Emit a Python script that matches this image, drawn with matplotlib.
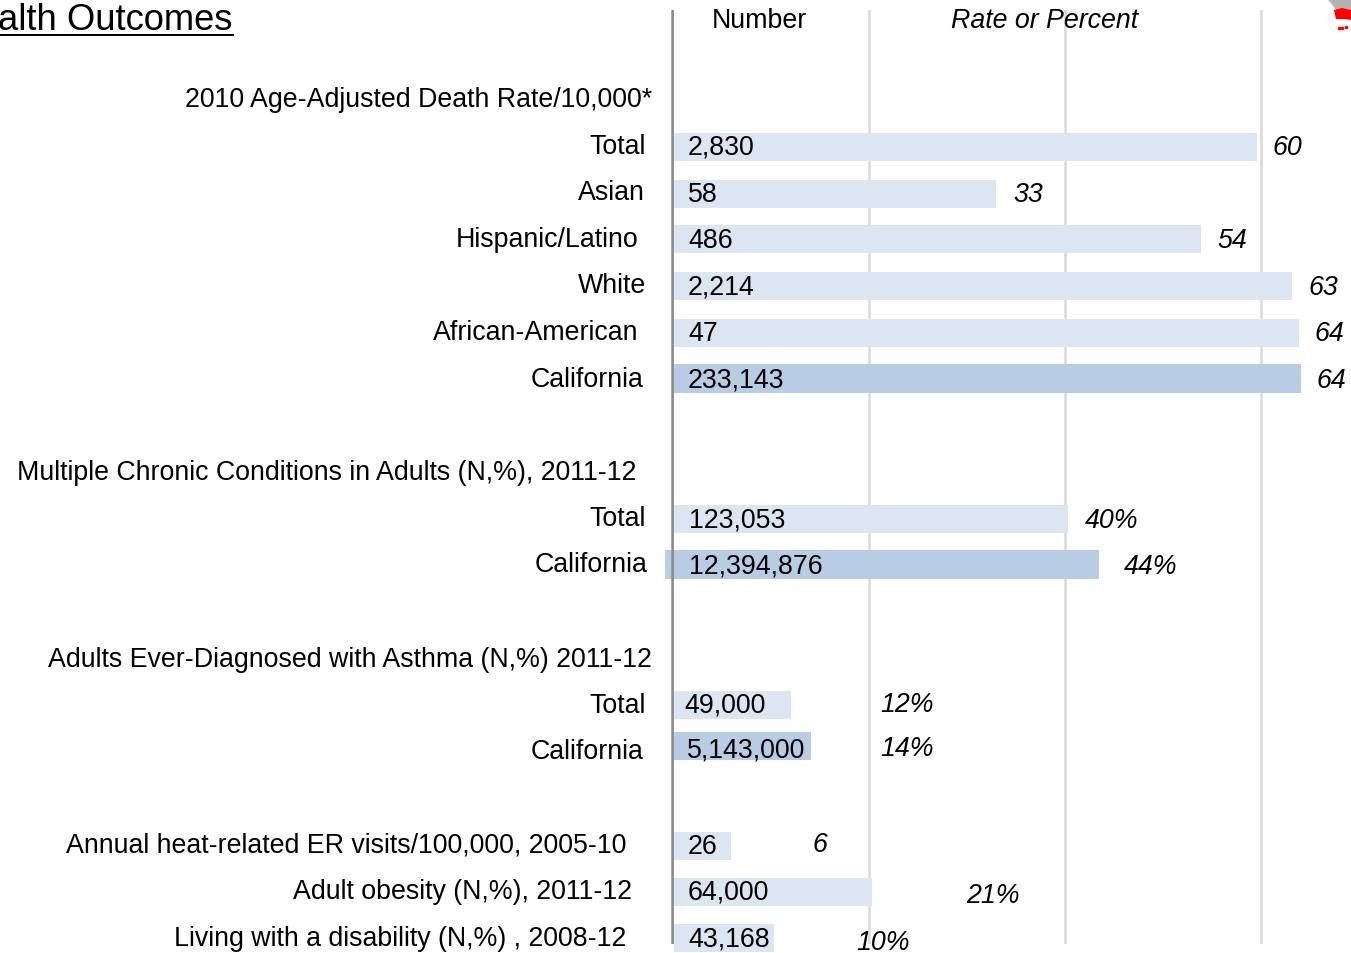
import matplotlib
matplotlib.use("Agg")
import matplotlib.pyplot as plt
import numpy as np

plt.rcParams['font.family'] = ['Liberation Sans', 'DejaVu Sans']

# data
section_titles = ["2010 Age-Adjusted Death Rate/10,000*",
                  "Multiple Chronic Conditions in Adults (N,%), 2011-12",
                  "Adults Ever-Diagnosed with Asthma (N,%) 2011-12"]
labels = ["Total", "Asian", "Hispanic/Latino", "White", "African-American", "California",
          "Total", "California",
          "Total", "California",
          "Annual heat-related ER visits/100,000, 2005-10",
          "Adult obesity (N,%), 2011-12",
          "Living with a disability (N,%) , 2008-12"]
numbers = ["2,830", "58", "486", "2,214", "47", "233,143",
           "123,053", "12,394,876",
           "49,000", "5,143,000",
           "26", "64,000", "43,168"]
values = [59.5, 32.9, 53.8, 63.1, 63.8, 64.0,
          40.3, 43.4,
          12.0, 14.0,
          5.9, 20.3, 10.3]
value_text = ["60", "33", "54", "63", "64", "64",
              "40%", "44%",
              "12%", "14%",
              "6", "21%", "10%"]
is_state = [False, False, False, False, False, True,
            False, True,
            False, True,
            False, False, False]
ticks = [20, 40, 60]

# layout, in pixels of the 1351x954 picture
W, H = 1351, 954
PX = 9.8        # pixels per unit on the rate scale
X0 = 673.5      # pixel where the bars start
AXIS_X = 672.6  # the dark line sits just left of that
DY = 2          # va=center sits a bit high for this font
FS = 19.3
bar_h = [28, 28, 28, 28, 28, 29, 28, 29, 28, 28, 28, 28, 28]
bar_y = [147.5, 194.5, 240, 287, 333.5, 379, 519.5, 565, 706, 746.5, 846.5, 892.5, 939]
bar_left = [0, 0, 0, 0, 0, 0, 0, -0.9, 0, 0, 0, 0, 0]
label_right = [646, 645, 639, 646, 638, 643, 646, 648, 646, 643, 626, 632, 626]
label_y = [145, 191, 238, 284, 331, 378, 517, 563, 704, 750, 844, 890, 937]
num_x = [688, 688, 688, 688, 688, 688, 689, 689, 684, 687, 688, 688, 688]
num_y = [146, 193, 239, 286, 332, 379, 519, 565, 704, 749, 845, 891, 938]
val_x = [1273, 1013, 1217, 1309, 1315, 1317, 1085, 1124, 880, 880, 812, 966, 856]
val_y = [146, 193, 239, 286, 332, 379, 519, 565, 703, 747, 843, 894, 941]
sec_right = [652, 636, 652]
sec_y = [98, 471, 658]


def to_x(px):
    return (np.asarray(px) - X0) / PX


fig = plt.figure(figsize=(W / 100, H / 100), dpi=100)
ax = fig.add_axes([0, 0, 1, 1])
ax.set_xlim(to_x(0), to_x(W))
ax.set_ylim(H, 0)   # y stays in pixels, rows have no scale of their own
ax.axis("off")

# grid and zero line
ax.vlines(ticks, 11, 945, color="#d9d9d9", lw=1.8, zorder=1, snap=False)
ax.vlines(to_x(AXIS_X), 11, 945, color="#8c8c8c", lw=1.9, zorder=3, snap=False)

# bars
for i in range(len(values)):
    c = "#b8cce4" if is_state[i] else "#dce6f2"
    ax.barh(bar_y[i], values[i] - bar_left[i], height=bar_h[i], left=bar_left[i],
            color=c, zorder=2)
    ax.text(to_x(label_right[i]), label_y[i] + DY, labels[i], ha="right", va="center",
            fontsize=FS, color="black", zorder=4)
    ax.text(to_x(num_x[i]), num_y[i] + DY, numbers[i], ha="left", va="center",
            fontsize=FS, color="black", zorder=4)
    ax.text(to_x(val_x[i]), val_y[i] + DY, value_text[i], ha="left", va="center",
            fontsize=FS, style="italic", color="black", zorder=4)

for t, r, y in zip(section_titles, sec_right, sec_y):
    ax.text(to_x(r), y + DY, t, ha="right", va="center", fontsize=FS, color="black")

# column headers
ax.text(to_x(759), 19 + DY, "Number", ha="center", va="center", fontsize=FS, zorder=4)
ax.text(to_x(1045), 19 + DY, "Rate or Percent", ha="center", va="center", fontsize=FS,
        style="italic", zorder=4)

# page title, the picture only shows the end of it
ax.text(to_x(233), 20, "alth Outcomes", ha="right", va="center", fontsize=26.2, zorder=4)
ax.plot([to_x(0), to_x(233)], [36, 36], color="black", lw=1.4, zorder=4)

# corner of the state map
map_gray_x = [1327, 1331, 1336, 1351, 1351, 1340]
map_gray_y = [0, 4, 11, 11, 0, 0]
map_red_x = [1334, 1342, 1351, 1351, 1345, 1336]
map_red_y = [11, 9, 11, 21, 20, 20]
ax.fill(to_x(map_gray_x), map_gray_y, color="#b3b3b3", lw=0, zorder=2)
ax.fill(to_x(map_red_x), map_red_y, color="#ff0000", lw=0, zorder=3)
ax.plot(to_x([1339, 1342, 1346]), [29, 29, 28], ls="none",
        marker="o", ms=1.6, color="#ff0000", zorder=3)

fig.savefig("out.png", dpi=100)
